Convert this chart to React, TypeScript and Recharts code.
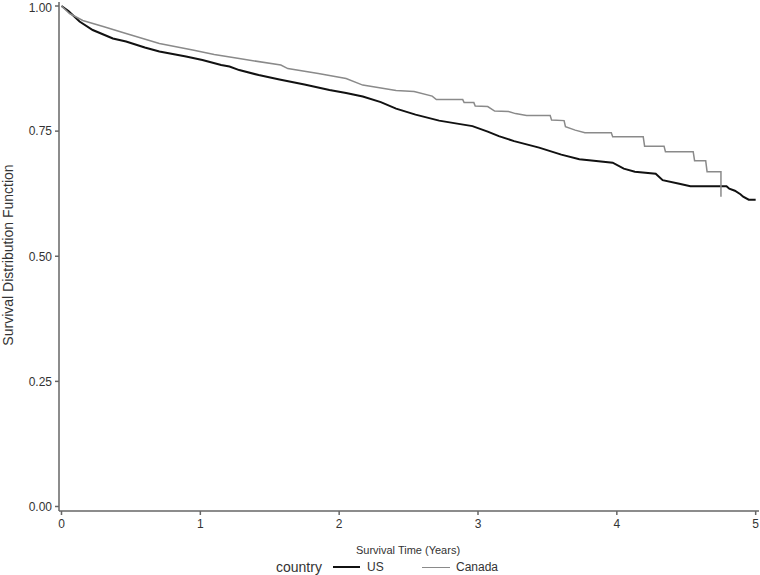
import React from 'react';
import { LineChart, Line, XAxis, YAxis } from 'recharts';

const usTimes = [0, 0.05, 0.13, 0.225, 0.37, 0.465, 0.6, 0.705, 0.897, 1.015, 1.15, 1.21, 1.28, 1.42, 1.57, 1.75, 1.93, 2.05, 2.17, 2.3, 2.41, 2.55, 2.72, 2.85, 2.96, 3.07, 3.15, 3.26, 3.44, 3.6, 3.73, 3.8, 3.97, 4.05, 4.13, 4.28, 4.33, 4.45, 4.53, 4.79, 4.81, 4.85, 4.89, 4.91, 4.95, 5.0];
const usSurv = [1.0, 0.99, 0.969, 0.952, 0.935, 0.929, 0.917, 0.909, 0.899, 0.892, 0.882, 0.879, 0.872, 0.862, 0.853, 0.843, 0.832, 0.826, 0.819, 0.808, 0.795, 0.783, 0.771, 0.765, 0.76, 0.749, 0.74, 0.73, 0.717, 0.703, 0.694, 0.692, 0.687, 0.675, 0.669, 0.665, 0.652, 0.645, 0.64, 0.64, 0.635, 0.631, 0.624, 0.619, 0.613, 0.613];

const caTimes = [0, 0.058, 0.153, 0.3, 0.465, 0.705, 0.945, 1.1, 1.28, 1.58, 1.63, 1.85, 2.05, 2.17, 2.41, 2.54, 2.67, 2.7, 2.89, 2.9, 2.97, 2.98, 3.07, 3.12, 3.22, 3.27, 3.35, 3.52, 3.53, 3.62, 3.63, 3.7, 3.77, 3.96, 3.97, 4.19, 4.2, 4.34, 4.35, 4.55, 4.56, 4.64, 4.65, 4.75, 4.75];
const caSurv = [1.0, 0.985, 0.971, 0.959, 0.945, 0.925, 0.912, 0.903, 0.895, 0.882, 0.875, 0.865, 0.855, 0.842, 0.831, 0.829, 0.82, 0.813, 0.813, 0.807, 0.807, 0.8, 0.799, 0.79, 0.789, 0.785, 0.781, 0.781, 0.772, 0.771, 0.759, 0.752, 0.747, 0.747, 0.739, 0.739, 0.72, 0.72, 0.709, 0.709, 0.691, 0.691, 0.669, 0.669, 0.619];

const xTicks = [0, 1, 2, 3, 4, 5];
const yTicks = [0, 0.25, 0.5, 0.75, 1];

const usData = usTimes.map((t, i) => ({ t, s: usSurv[i] }));
const caData = caTimes.map((t, i) => ({ t, s: caSurv[i] }));

const FONT = '"Liberation Sans", Arial, sans-serif';
const AX = '#666';
const TXT = '#333';

export default function App() {
  return (
    <div style={{ position: 'absolute', left: 0, top: 0, width: 760, height: 575, fontFamily: FONT, background: '#fff' }}>
      <LineChart width={760} height={575} margin={{ top: 2, right: 1, left: 0, bottom: 0 }}>
        <XAxis
          dataKey="t"
          type="number"
          domain={[-0.018, 5.024]}
          ticks={xTicks}
          allowDataOverflow
          height={64}
          stroke={AX}
          strokeWidth={1.5}
          tickSize={4}
          tickMargin={4}
          tick={{ fill: TXT, fontSize: 12, fontFamily: FONT }}
        />
        <XAxis
          xAxisId="top"
          orientation="top"
          type="number"
          domain={[-0.018, 5.024]}
          height={0}
          tick={false}
          tickLine={false}
          stroke={AX}
          strokeWidth={1.5}
        />
        <YAxis
          type="number"
          domain={[-0.009, 1.008]}
          ticks={yTicks}
          allowDataOverflow
          width={59}
          stroke={AX}
          strokeWidth={1.5}
          tickSize={4}
          tickMargin={3}
          tickFormatter={(v: number) => v.toFixed(2)}
          tick={{ fill: TXT, fontSize: 12, fontFamily: FONT }}
        />
        <YAxis
          yAxisId="right"
          orientation="right"
          type="number"
          domain={[-0.009, 1.008]}
          width={0}
          tick={false}
          tickLine={false}
          stroke={AX}
          strokeWidth={1.5}
        />
        <Line data={usData} dataKey="s" type="linear" stroke="#111" strokeWidth={2} dot={false} isAnimationActive={false} />
        <Line data={caData} dataKey="s" type="linear" stroke="#8a8a8a" strokeWidth={1.5} dot={false} isAnimationActive={false} />
      </LineChart>
      <div style={{ position: 'absolute', left: -92.5, top: 247, width: 200, height: 16, lineHeight: '16px', fontSize: 14, color: TXT, textAlign: 'center', transform: 'rotate(-90deg)', transformOrigin: '50% 50%', whiteSpace: 'nowrap' }}>
        Survival Distribution Function
      </div>
      <div style={{ position: 'absolute', left: 308, top: 544, width: 200, lineHeight: '12px', fontSize: 11, color: TXT, textAlign: 'center', whiteSpace: 'nowrap' }}>
        Survival Time (Years)
      </div>
      <div style={{ position: 'absolute', left: 276, top: 559, height: 16, lineHeight: '16px', fontSize: 14, color: TXT, whiteSpace: 'nowrap' }}>country</div>
      <div style={{ position: 'absolute', left: 333, top: 566, width: 27, height: 2, background: '#111' }} />
      <div style={{ position: 'absolute', left: 367, top: 560, height: 14, lineHeight: '14px', fontSize: 12, color: TXT, whiteSpace: 'nowrap' }}>US</div>
      <div style={{ position: 'absolute', left: 422, top: 566.5, width: 28, height: 1.5, background: '#8a8a8a' }} />
      <div style={{ position: 'absolute', left: 456, top: 560, height: 14, lineHeight: '14px', fontSize: 12, color: TXT, whiteSpace: 'nowrap' }}>Canada</div>
    </div>
  );
}
